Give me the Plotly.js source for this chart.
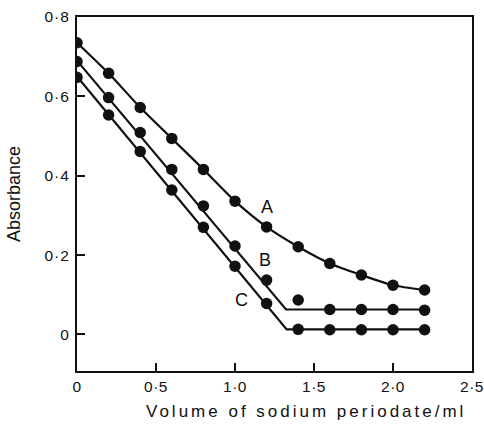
<!DOCTYPE html>
<html>
<head>
<meta charset="utf-8">
<script src="https://cdn.plot.ly/plotly-3.0.1.min.js"></script>
<style>
  html, body { margin: 0; padding: 0; background: #fff; }
  #chart { width: 484px; height: 425px; }
  .annotation-text { letter-spacing: 3px; }
  .ytick text { letter-spacing: 1px; }
  .xtick text { letter-spacing: 0.5px; }
</style>
</head>
<body>
<div id="chart"></div>
<script>
// Volume of sodium periodate (ml)
const volume = [0, 0.2, 0.4, 0.6, 0.8, 1.0, 1.2, 1.4, 1.6, 1.8, 2.0, 2.2];
// Absorbance readings
const seriesA = [0.735, 0.658, 0.572, 0.494, 0.416, 0.336, 0.271, 0.221, 0.179, 0.150, 0.124, 0.112];
const seriesB = [0.688, 0.597, 0.509, 0.416, 0.324, 0.223, 0.137, 0.087, 0.063, 0.063, 0.063, 0.061];
const seriesC = [0.648, 0.553, 0.461, 0.364, 0.270, 0.172, 0.078, 0.013, 0.012, 0.012, 0.012, 0.012];
// Fitted straight-line segments for B and C (break points)
const fitBx = [0, 1.323, 2.2];
const fitBy = [0.690, 0.063, 0.063];
const fitCx = [0, 1.327, 2.2];
const fitCy = [0.650, 0.013, 0.013];
// Curve labels
const labelText = ['A', 'B', 'C'];
const labelX = [1.209, 1.2, 1.053];
const labelY = [0.322, 0.187, 0.087];
// Tick labels
const xTickVals = [0, 0.5, 1.0, 1.5, 2.0, 2.5];
const xTickText = ['0', '0·5', '1·0', '1·5', '2·0', '2·5'];
const yTickVals = [0, 0.2, 0.4, 0.6, 0.8];
const yTickText = ['0', '0·2', '0·4', '0·6', '0·8'];
const xTitle = 'Volume of sodium periodate/ml';
const yTitle = 'Absorbance';

const FONT = 'Liberation Sans, Arial, Helvetica, sans-serif';
const marker = { color: '#111', size: 11.5, symbol: 'circle' };
const lineStyle = { color: '#111', width: 2.2 };

const traces = [
  { x: volume, y: seriesA, mode: 'lines+markers', line: Object.assign({ shape: 'spline', smoothing: 0.6 }, lineStyle), marker: marker, hoverinfo: 'skip' },
  { x: fitBx, y: fitBy, mode: 'lines', line: lineStyle, hoverinfo: 'skip' },
  { x: volume, y: seriesB, mode: 'markers', marker: marker, hoverinfo: 'skip' },
  { x: fitCx, y: fitCy, mode: 'lines', line: lineStyle, hoverinfo: 'skip' },
  { x: volume, y: seriesC, mode: 'markers', marker: marker, hoverinfo: 'skip' }
];

const annotations = labelText.map((t, i) => ({
  x: labelX[i], y: labelY[i], xref: 'x', yref: 'y', text: t, showarrow: false,
  font: { family: FONT, size: 18, color: '#111' }
}));
// x-axis title, placed as in the original (offset right of plot centre)
annotations.push({
  x: 0.58, y: -0.115, xref: 'paper', yref: 'paper', xanchor: 'center', yanchor: 'middle',
  text: xTitle, showarrow: false, font: { family: FONT, size: 17, color: '#111' }
});

const axisCommon = {
  showgrid: false, zeroline: false, showline: true, linecolor: '#111', linewidth: 2,
  mirror: true, ticks: 'inside', ticklen: 8, tickwidth: 2, tickcolor: '#111',
  tickfont: { family: FONT, size: 15.5, color: '#111' }, tickmode: 'array', fixedrange: true,
  ticklabeloverflow: 'allow'
};

const layout = {
  width: 484, height: 425,
  margin: { l: 77, r: 12, t: 17, b: 54 },
  paper_bgcolor: '#fff', plot_bgcolor: '#fff',
  showlegend: false,
  xaxis: Object.assign({}, axisCommon, {
    range: [0, 2.5], tickvals: xTickVals, ticktext: xTickText
  }),
  yaxis: Object.assign({}, axisCommon, {
    range: [-0.092, 0.8], tickvals: yTickVals, ticktext: yTickText,
    ticklabelstandoff: 2,
    title: { text: yTitle, font: { family: FONT, size: 18, color: '#111' }, standoff: 19 }
  }),
  annotations: annotations
};

Plotly.newPlot('chart', traces, layout, { displayModeBar: false, staticPlot: true });
</script>
</body>
</html>
